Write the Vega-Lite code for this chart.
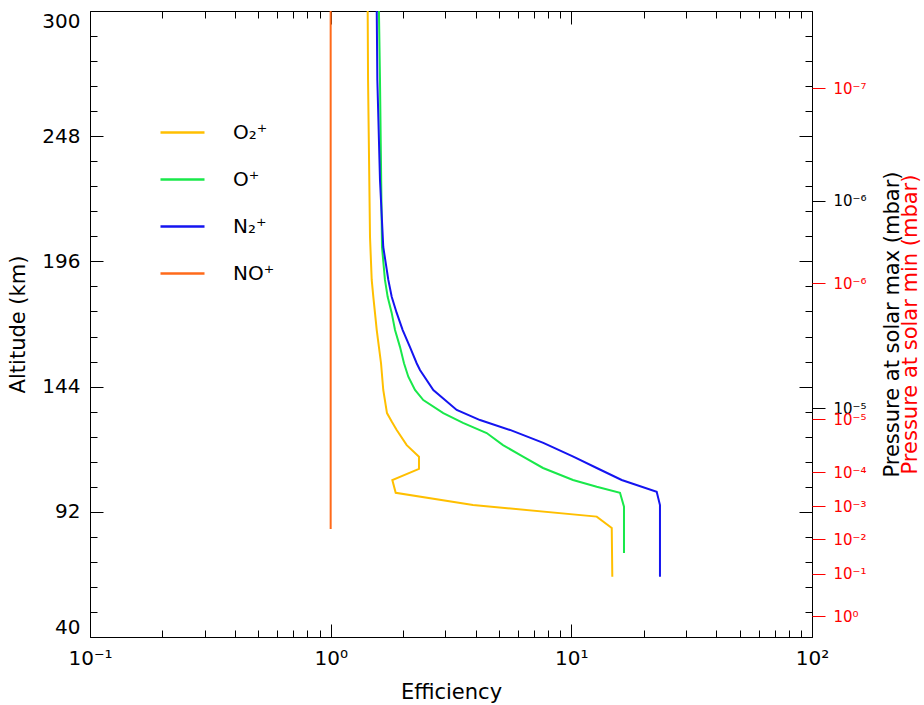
{
  "$schema": "https://vega.github.io/schema/vega-lite/v6.json",
  "width": 722,
  "height": 626,
  "autosize": {"type": "none"},
  "padding": {"left": 90, "top": 11, "right": 112, "bottom": 68},
  "background": "white",
  "config": {
    "view": {"stroke": null},
    "font": "DejaVu Sans",
    "axis": {"grid": false, "domainColor": "black", "tickColor": "black", "labelColor": "black", "titleColor": "black", "labelFont": "DejaVu Sans", "titleFont": "DejaVu Sans", "titleFontWeight": "normal", "domainWidth": 1, "tickWidth": 1, "labelOverlap": false, "labelBound": false}
  },
  "data": {"values": [
    {"ion": "O₂⁺", "alt": 300, "eff": 1.425},
    {"ion": "O₂⁺", "alt": 271.3, "eff": 1.43},
    {"ion": "O₂⁺", "alt": 206.1, "eff": 1.457},
    {"ion": "O₂⁺", "alt": 188.3, "eff": 1.481},
    {"ion": "O₂⁺", "alt": 181.3, "eff": 1.504},
    {"ion": "O₂⁺", "alt": 174.6, "eff": 1.528},
    {"ion": "O₂⁺", "alt": 167.5, "eff": 1.554},
    {"ion": "O₂⁺", "alt": 160.4, "eff": 1.587},
    {"ion": "O₂⁺", "alt": 153.7, "eff": 1.619},
    {"ion": "O₂⁺", "alt": 142.6, "eff": 1.654},
    {"ion": "O₂⁺", "alt": 133.0, "eff": 1.714},
    {"ion": "O₂⁺", "alt": 129.5, "eff": 1.793},
    {"ion": "O₂⁺", "alt": 126.0, "eff": 1.881},
    {"ion": "O₂⁺", "alt": 119.7, "eff": 2.07},
    {"ion": "O₂⁺", "alt": 114.9, "eff": 2.328},
    {"ion": "O₂⁺", "alt": 109.8, "eff": 2.328},
    {"ion": "O₂⁺", "alt": 105.2, "eff": 1.804},
    {"ion": "O₂⁺", "alt": 99.9, "eff": 1.863},
    {"ion": "O₂⁺", "alt": 94.8, "eff": 3.903},
    {"ion": "O₂⁺", "alt": 90.0, "eff": 12.75},
    {"ion": "O₂⁺", "alt": 85.3, "eff": 14.72},
    {"ion": "O₂⁺", "alt": 65.0, "eff": 14.8},
    {"ion": "O⁺", "alt": 300, "eff": 1.587},
    {"ion": "O⁺", "alt": 271.3, "eff": 1.603},
    {"ion": "O⁺", "alt": 202.0, "eff": 1.634},
    {"ion": "O⁺", "alt": 188.3, "eff": 1.681},
    {"ion": "O⁺", "alt": 181.3, "eff": 1.725},
    {"ion": "O⁺", "alt": 174.6, "eff": 1.793},
    {"ion": "O⁺", "alt": 167.5, "eff": 1.851},
    {"ion": "O⁺", "alt": 160.4, "eff": 1.942},
    {"ion": "O⁺", "alt": 153.7, "eff": 2.017},
    {"ion": "O⁺", "alt": 148.1, "eff": 2.102},
    {"ion": "O⁺", "alt": 142.6, "eff": 2.241},
    {"ion": "O⁺", "alt": 138.4, "eff": 2.426},
    {"ion": "O⁺", "alt": 133.0, "eff": 2.938},
    {"ion": "O⁺", "alt": 128.9, "eff": 3.547},
    {"ion": "O⁺", "alt": 124.7, "eff": 4.449},
    {"ion": "O⁺", "alt": 119.7, "eff": 5.201},
    {"ion": "O⁺", "alt": 114.9, "eff": 6.299},
    {"ion": "O⁺", "alt": 110.2, "eff": 7.627},
    {"ion": "O⁺", "alt": 105.2, "eff": 10.16},
    {"ion": "O⁺", "alt": 102.4, "eff": 12.75},
    {"ion": "O⁺", "alt": 99.9, "eff": 15.93},
    {"ion": "O⁺", "alt": 94.1, "eff": 16.55},
    {"ion": "O⁺", "alt": 74.9, "eff": 16.55},
    {"ion": "N₂⁺", "alt": 300, "eff": 1.554},
    {"ion": "N₂⁺", "alt": 271.3, "eff": 1.563},
    {"ion": "N₂⁺", "alt": 229.8, "eff": 1.603},
    {"ion": "N₂⁺", "alt": 202.0, "eff": 1.654},
    {"ion": "N₂⁺", "alt": 188.3, "eff": 1.736},
    {"ion": "N₂⁺", "alt": 181.3, "eff": 1.793},
    {"ion": "N₂⁺", "alt": 174.6, "eff": 1.881},
    {"ion": "N₂⁺", "alt": 167.5, "eff": 1.992},
    {"ion": "N₂⁺", "alt": 160.4, "eff": 2.136},
    {"ion": "N₂⁺", "alt": 153.7, "eff": 2.277},
    {"ion": "N₂⁺", "alt": 150.9, "eff": 2.35},
    {"ion": "N₂⁺", "alt": 142.6, "eff": 2.67},
    {"ion": "N₂⁺", "alt": 134.3, "eff": 3.34},
    {"ion": "N₂⁺", "alt": 130.1, "eff": 4.174},
    {"ion": "N₂⁺", "alt": 126.0, "eff": 5.561},
    {"ion": "N₂⁺", "alt": 120.6, "eff": 7.648},
    {"ion": "N₂⁺", "alt": 114.9, "eff": 10.19},
    {"ion": "N₂⁺", "alt": 110.2, "eff": 12.75},
    {"ion": "N₂⁺", "alt": 105.2, "eff": 16.19},
    {"ion": "N₂⁺", "alt": 100.3, "eff": 22.63},
    {"ion": "N₂⁺", "alt": 94.8, "eff": 23.35},
    {"ion": "N₂⁺", "alt": 65.0, "eff": 23.35},
    {"ion": "NO⁺", "alt": 300, "eff": 1.0},
    {"ion": "NO⁺", "alt": 84.9, "eff": 1.0}
  ]},
  "layer": [
    {
      "mark": {"type": "line", "strokeWidth": 2, "clip": true},
      "encoding": {
        "x": {
          "field": "eff", "type": "quantitative",
          "scale": {"type": "log", "domain": [0.1, 100], "nice": false},
          "axis": {
            "orient": "bottom",
            "values": [0.1, 0.2, 0.3, 0.4, 0.5, 0.6, 0.7, 0.8, 0.9, 1, 2, 3, 4, 5, 6, 7, 8, 9, 10, 20, 30, 40, 50, 60, 70, 80, 90, 100],
            "tickSize": {"condition": {"test": "datum.value == 0.1 || datum.value == 1 || datum.value == 10 || datum.value == 100", "value": -13}, "value": -7},
            "labelExpr": "datum.value == 0.1 ? '10⁻¹' : datum.value == 1 ? '10⁰' : datum.value == 10 ? '10¹' : datum.value == 100 ? '10²' : ''",
            "labelPadding": 24,
            "labelFontSize": 20,
            "labelFlush": false,
            "title": "Efficiency",
            "titleFontSize": 21,
            "titlePadding": 7
          }
        },
        "y": {
          "field": "alt", "type": "quantitative",
          "scale": {"domain": [40, 300], "nice": false, "zero": false},
          "axis": {
            "orient": "left",
            "values": [40, 50.4, 60.8, 71.2, 81.6, 92, 102.4, 112.8, 123.2, 133.6, 144, 154.4, 164.8, 175.2, 185.6, 196, 206.4, 216.8, 227.2, 237.6, 248, 258.4, 268.8, 279.2, 289.6, 300],
            "tickSize": {"condition": {"test": "indexof([40,92,144,196,248,300], datum.value) >= 0", "value": -13}, "value": -7},
            "labelExpr": "indexof([40,92,144,196,248,300], datum.value) >= 0 ? datum.label : ''",
            "labelPadding": 23,
            "labelFontSize": 20,
            "labelFlush": true,
            "title": "Altitude (km)",
            "titleFontSize": 21,
            "titlePadding": 13
          }
        },
        "color": {
          "field": "ion", "type": "nominal",
          "scale": {"domain": ["O₂⁺", "O⁺", "N₂⁺", "NO⁺"], "range": ["#FFBF00", "#19E84A", "#1414F0", "#FF6A1A"]},
          "legend": {
            "orient": "none", "legendX": 69, "legendY": 98, "title": null,
            "symbolType": "stroke", "symbolSize": 1936, "symbolStrokeWidth": 2.5,
            "labelFontSize": 20, "labelFont": "DejaVu Sans", "labelColor": "black",
            "labelOffset": 27, "rowPadding": 13, "padding": 0
          }
        },
        "order": {"field": "alt", "sort": "descending"}
      }
    },
    {
      "mark": {"type": "point", "opacity": 0},
      "encoding": {
        "x": {
          "field": "eff", "type": "quantitative",
          "scale": {"type": "log", "domain": [0.1, 100], "nice": false},
          "axis": {
            "orient": "top",
            "values": [0.1, 0.2, 0.3, 0.4, 0.5, 0.6, 0.7, 0.8, 0.9, 1, 2, 3, 4, 5, 6, 7, 8, 9, 10, 20, 30, 40, 50, 60, 70, 80, 90, 100],
            "tickSize": {"condition": {"test": "datum.value == 0.1 || datum.value == 1 || datum.value == 10 || datum.value == 100", "value": -13}, "value": -7},
            "labels": false,
            "title": null
          }
        },
        "y": {
          "field": "alt", "type": "quantitative",
          "scale": {"domain": [40, 300], "nice": false, "zero": false},
          "axis": {
            "orient": "right",
            "values": [40, 50.4, 60.8, 71.2, 81.6, 92, 102.4, 112.8, 123.2, 133.6, 144, 154.4, 164.8, 175.2, 185.6, 196, 206.4, 216.8, 227.2, 237.6, 248, 258.4, 268.8, 279.2, 289.6, 300],
            "tickSize": {"condition": {"test": "indexof([40,92,144,196,248,300], datum.value) >= 0", "value": -13}, "value": -7},
            "labels": false,
            "title": null
          }
        }
      }
    },
    {
      "data": {"values": [
        {"alt": 221.1, "p": "10⁻⁶"},
        {"alt": 135.1, "p": "10⁻⁵"}
      ]},
      "mark": {"type": "point", "opacity": 0},
      "encoding": {
        "y": {
          "field": "alt", "type": "quantitative",
          "scale": {"domain": [40, 300], "nice": false, "zero": false},
          "axis": {
            "orient": "right",
            "values": [221.1, 135.1],
            "labelExpr": "datum.value > 200 ? '10⁻⁶' : '10⁻⁵'",
            "domain": false,
            "tickSize": 13,
            "labelPadding": 8,
            "labelFontSize": 15,
            "labelFlush": false,
            "title": "Pressure at solar max (mbar)",
            "titleFontSize": 21,
            "titleAngle": 270,
            "titleBaseline": "top",
            "titlePadding": 15
          }
        }
      }
    },
    {
      "data": {"values": [
        {"alt": 268.0, "p": "10⁻⁷"},
        {"alt": 187.0, "p": "10⁻⁶"},
        {"alt": 130.5, "p": "10⁻⁵"},
        {"alt": 108.5, "p": "10⁻⁴"},
        {"alt": 94.4, "p": "10⁻³"},
        {"alt": 80.7, "p": "10⁻²"},
        {"alt": 66.2, "p": "10⁻¹"},
        {"alt": 48.7, "p": "10⁰"}
      ]},
      "mark": {"type": "point", "opacity": 0},
      "encoding": {
        "y": {
          "field": "alt", "type": "quantitative",
          "scale": {"domain": [40, 300], "nice": false, "zero": false},
          "axis": {
            "orient": "right",
            "values": [268.0, 187.0, 130.5, 108.5, 94.4, 80.7, 66.2, 48.7],
            "labelExpr": "datum.value > 250 ? '10⁻⁷' : datum.value > 150 ? '10⁻⁶' : datum.value > 120 ? '10⁻⁵' : datum.value > 100 ? '10⁻⁴' : datum.value > 90 ? '10⁻³' : datum.value > 75 ? '10⁻²' : datum.value > 60 ? '10⁻¹' : '10⁰'",
            "domain": false,
            "tickSize": 13,
            "tickColor": "#FF0000",
            "labelColor": "#FF0000",
            "titleColor": "#FF0000",
            "labelPadding": 8,
            "labelFontSize": 15,
            "labelFlush": false,
            "title": "Pressure at solar min (mbar)",
            "titleFontSize": 21,
            "titleAngle": 270,
            "titleBaseline": "top",
            "titlePadding": 33
          }
        }
      }
    }
  ],
  "resolve": {
    "scale": {"x": "independent", "y": "independent"},
    "axis": {"x": "independent", "y": "independent"}
  }
}
